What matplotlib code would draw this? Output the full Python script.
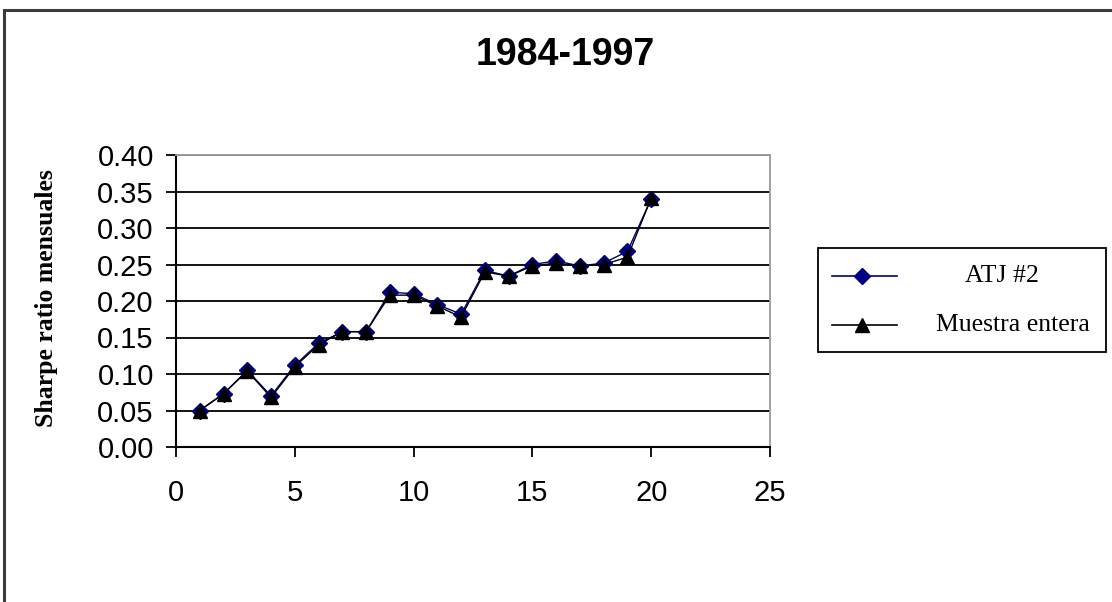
import matplotlib
matplotlib.use("Agg")
import matplotlib.pyplot as plt
from matplotlib.patches import Rectangle
from matplotlib.lines import Line2D

# Sharpe ratios by portfolio number
periods = list(range(1, 21))
atj2 = [0.050, 0.073, 0.105, 0.070, 0.112, 0.142, 0.158, 0.158, 0.212, 0.210,
        0.195, 0.182, 0.242, 0.234, 0.250, 0.255, 0.248, 0.252, 0.268, 0.340]
muestra = [0.050, 0.073, 0.104, 0.068, 0.110, 0.140, 0.158, 0.158, 0.208, 0.208,
           0.193, 0.178, 0.240, 0.234, 0.248, 0.252, 0.248, 0.250, 0.260, 0.341]

title = "1984-1997"
ylabel = "Sharpe ratio mensuales"
series_names = ["ATJ #2", "Muestra entera"]
yticks = [0.00, 0.05, 0.10, 0.15, 0.20, 0.25, 0.30, 0.35, 0.40]
xticks = [0, 5, 10, 15, 20, 25]

W, H, DPI = 1112, 602, 100
fig = plt.figure(figsize=(W / DPI, H / DPI), dpi=DPI)
fig.patch.set_facecolor("white")

# outer chart frame (left and top edges visible)
fig.add_artist(Rectangle((4 / W, -0.05), 1.2, 1.05 - 10 / H,
                         transform=fig.transFigure, fill=False,
                         edgecolor="#3c3c3c", linewidth=2.2))

ax = fig.add_axes([176 / W, 1 - 447 / H, (770 - 176) / W, (447 - 155) / H])
ax.set_xlim(0, 25)
ax.set_ylim(0, 0.40)

ax.yaxis.grid(True, color="black", linewidth=1.3)
ax.set_axisbelow(True)

ax.plot(periods, atj2, color="#000080", linewidth=1.0, marker="D",
        markersize=8.5, markerfacecolor="#000080", markeredgecolor="#000080",
        zorder=3)
ax.plot(periods, muestra, color="black", linewidth=1.0, marker="^",
        markersize=10.5, markerfacecolor="black", markeredgecolor="black",
        zorder=4)

ax.set_xticks(xticks)
ax.set_yticks(yticks)
ax.set_yticklabels([f"{v:.2f}" for v in yticks])
for lbl in ax.get_xticklabels() + ax.get_yticklabels():
    lbl.set_fontfamily("Liberation Sans")
    lbl.set_fontsize(21)
ax.tick_params(axis="y", direction="out", length=7, width=1.3, pad=9)
ax.tick_params(axis="x", direction="out", length=7, width=1.3, pad=16)

for side in ("left", "bottom"):
    ax.spines[side].set_color("black")
    ax.spines[side].set_linewidth(1.5)
for side in ("top", "right"):
    ax.spines[side].set_color("#9a9a9a")
    ax.spines[side].set_linewidth(1.3)

fig.text(565 / W, 1 - 55 / H, title, ha="center", va="center",
         fontfamily="Liberation Sans", fontweight="bold", fontsize=27)
fig.text(47 / W, 1 - 298 / H, ylabel, ha="center", va="center",
         rotation=90, fontfamily="Liberation Serif", fontweight="bold",
         fontsize=18.5)

# legend box
lx0, ly0, lx1, ly1 = 818, 248, 1106, 352
fig.add_artist(Rectangle((lx0 / W, 1 - ly1 / H), (lx1 - lx0) / W,
                         (ly1 - ly0) / H, transform=fig.transFigure,
                         facecolor="white", edgecolor="black", linewidth=1.3))
rows = [(276, "#000080", "D", 8.5, series_names[0], 1002),
        (325, "black", "^", 10.5, series_names[1], 1013)]
for y, col, mk, ms, name, tx in rows:
    fig.add_artist(Line2D([832 / W, 897 / W], [1 - y / H, 1 - y / H],
                          transform=fig.transFigure, color=col, linewidth=1.2))
    fig.add_artist(Line2D([862 / W], [1 - y / H], transform=fig.transFigure,
                          color=col, marker=mk, markersize=ms,
                          markerfacecolor=col, markeredgecolor=col))
    fig.text(tx / W, 1 - y / H, name, ha="center", va="center",
             fontfamily="Liberation Serif", fontsize=18.5)

fig.savefig("out.png", dpi=DPI, facecolor="white")
